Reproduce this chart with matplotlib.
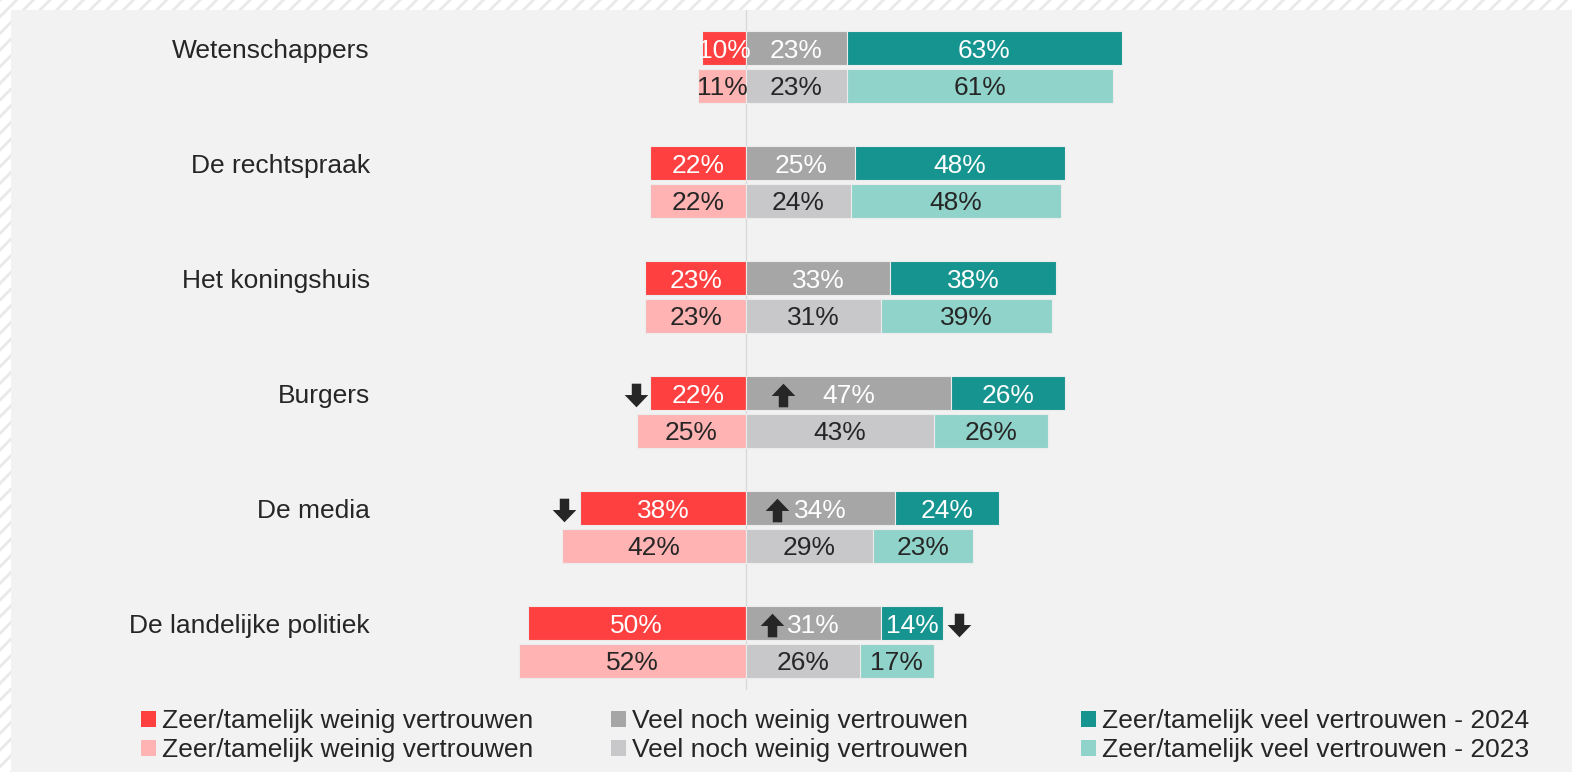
import matplotlib
matplotlib.use("Agg")
import matplotlib.pyplot as plt
from matplotlib.patches import Rectangle, Patch
from matplotlib.path import Path

plt.rcParams['font.family'] = ['Liberation Sans', 'DejaVu Sans']
plt.rcParams['hatch.linewidth'] = 2.0

categories = ["Wetenschappers", "De rechtspraak", "Het koningshuis",
              "Burgers", "De media", "De landelijke politiek"]
low_2024 = [10, 22, 23, 22, 38, 50]
mid_2024 = [23, 25, 33, 47, 34, 31]
high_2024 = [63, 48, 38, 26, 24, 14]
low_2023 = [11, 22, 23, 25, 42, 52]
mid_2023 = [23, 24, 31, 43, 29, 26]
high_2023 = [61, 48, 39, 26, 23, 17]

legend_labels = ["Zeer/tamelijk weinig vertrouwen", "Zeer/tamelijk weinig vertrouwen",
                 "Veel noch weinig vertrouwen", "Veel noch weinig vertrouwen",
                 "Zeer/tamelijk veel vertrouwen - 2024", "Zeer/tamelijk veel vertrouwen - 2023"]

# significance arrows: (category index, x position in %, direction)
arrow_cat = [3, 4, 5, 3, 4, 5]
arrow_x = [-25.2, -41.7, 48.8, 8.5, 7.1, 6.0]
arrow_dir = ["down", "down", "down", "up", "up", "up"]

RED, LRED = "#ff4040", "#ffb3b3"
GRAY, LGRAY = "#a6a6a6", "#c8c8ca"
TEAL, LTEAL = "#159490", "#90d3ca"
DARK = "#262626"
BG = "#f2f2f2"

W, H = 1572, 772
fig = plt.figure(figsize=(W / 100, H / 100), dpi=100, facecolor="white")

# hatched border + grey panel
fig.patches.append(Rectangle((0, 0), 1, 1, transform=fig.transFigure,
                             facecolor="white", edgecolor="#e9e9e9", hatch="//",
                             linewidth=0, zorder=-3))
fig.patches.append(Rectangle((11 / W, 0), 1 - 11 / W, (H - 10) / H,
                             transform=fig.transFigure, facecolor=BG,
                             edgecolor="none", zorder=-2))

ax_left, ax_top, ax_bottom = 380, 10, 690
ax = fig.add_axes([ax_left / W, 1 - ax_bottom / H, 1 - ax_left / W, (ax_bottom - ax_top) / H])
ax.set_facecolor("none")
ppu = 4.37
ax.set_xlim((ax_left - 746) / ppu, (W - 746) / ppu)
ax.set_ylim((ax_bottom - 67) / 115, (ax_top - 67) / 115)
for s in ax.spines.values():
    s.set_visible(False)
ax.set_xticks([])

ax.axvline(0, color="#d9d9d9", linewidth=1, zorder=0)

off = 0.165
bh = 0.296
fs = 19
for i in range(len(categories)):
    for yr, (lo, mi, hi, cl, cm, ch, tc) in enumerate([
            (low_2024[i], mid_2024[i], high_2024[i], RED, GRAY, TEAL, "white"),
            (low_2023[i], mid_2023[i], high_2023[i], LRED, LGRAY, LTEAL, DARK)]):
        y = i - off if yr == 0 else i + off
        ax.barh(y, lo, left=-lo, height=bh, color=cl, edgecolor="#ececec", linewidth=0.8, zorder=2)
        ax.barh(y, mi, left=0, height=bh, color=cm, edgecolor="#ececec", linewidth=0.8, zorder=2)
        ax.barh(y, hi, left=mi, height=bh, color=ch, edgecolor="#ececec", linewidth=0.8, zorder=2)
        for xc, v in ((-lo / 2, lo), (mi / 2, mi), (mi + hi / 2, hi)):
            ax.text(xc, y, f"{v}%", ha="center", va="center_baseline", color=tc,
                    fontsize=fs, zorder=4)

ax.set_yticks([i - off for i in range(len(categories))])
ax.set_yticklabels(categories, fontsize=19, color=DARK)
ax.tick_params(axis="y", length=0, pad=7.2)

down_path = Path([(-0.2, 0.5), (0.2, 0.5), (0.2, 0.02), (0.5, 0.02), (0, -0.5),
                  (-0.5, 0.02), (-0.2, 0.02), (-0.2, 0.5)],
                 [Path.MOVETO] + [Path.LINETO] * 6 + [Path.CLOSEPOLY])
up_path = Path([(x, -y) for x, y in down_path.vertices], down_path.codes)
for c, x, d in zip(arrow_cat, arrow_x, arrow_dir):
    ax.plot([x], [c - off + 0.02], marker=down_path if d == "down" else up_path,
            markersize=17, color=DARK, markeredgewidth=0, zorder=5)

colors = [RED, LRED, GRAY, LGRAY, TEAL, LTEAL]
col_x = [141, 611, 1081]
for k in range(3):
    handles = [Patch(facecolor=colors[2 * k + j], edgecolor="none") for j in range(2)]
    fig.legend(handles, legend_labels[2 * k:2 * k + 2], loc="upper left",
               bbox_to_anchor=(col_x[k] / W, 1 - 709 / H), frameon=False,
               fontsize=19, handlelength=0.56, handleheight=0.56,
               handletextpad=0.25, labelspacing=0.2, borderpad=0, borderaxespad=0,
               labelcolor=DARK)

fig.savefig("out.png", dpi=100, facecolor=fig.get_facecolor())
